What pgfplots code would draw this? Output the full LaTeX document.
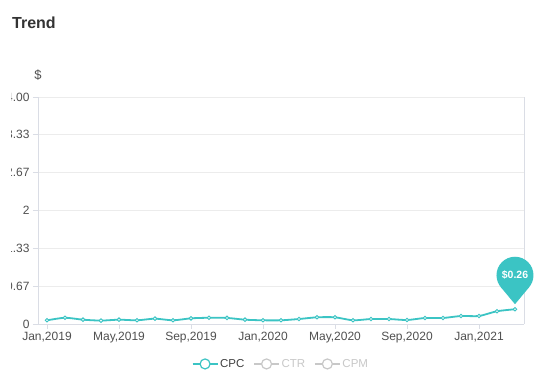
\documentclass[border=0pt]{standalone}
\usepackage{fontspec}
\setmainfont{Liberation Sans}
\usepackage{pgfplots}
\pgfplotsset{compat=1.18}
\definecolor{teal1}{RGB}{59,196,196}
\definecolor{axisgray}{RGB}{218,221,229}
\definecolor{gridgray}{RGB}{236,236,236}
\definecolor{ticktext}{RGB}{80,80,80}
\definecolor{leggray}{RGB}{200,200,200}
\begin{document}
\begin{tikzpicture}[x=1pt,y=1pt]
\useasboundingbox (0,0) rectangle (558,383);
\fill[white] (0,0) rectangle (558,383);
\node[anchor=west, inner sep=0pt, font=\fontsize{16}{19}\selectfont\bfseries, text=black!80] at (12,360) {Trend};
\node[font=\fontsize{13}{15}\selectfont, text=ticktext] at (38,308) {\$};
\begin{scope}
\clip (11,0) rectangle (558,383);
\begin{axis}[
  at={(38pt,59pt)}, anchor=south west,
  width=486pt, height=227pt, scale only axis,
  xmin=-0.5, xmax=26.5, ymin=0, ymax=4,
  xtick={0,4,8,12,16,20,24},
  xticklabels={{Jan,2019},{May,2019},{Sep,2019},{Jan,2020},{May,2020},{Sep,2020},{Jan,2021}},
  ytick={0,0.66667,1.33333,2,2.66667,3.33333,4},
  yticklabels={0,0.67,1.33,2,2.67,3.33,4.00},
  axis x line*=bottom, axis y line*=left,
  axis line style={axisgray, line width=0.8pt},
  ymajorgrids, grid style={gridgray, line width=0.8pt},
  tick align=outside, major tick length=5pt,
  tick style={axisgray, line width=0.8pt},
  ticklabel style={font=\fontsize{12}{14}\selectfont, text=ticktext},
  /pgf/number format/assume math mode=true,
  clip=false,
  legend style={at={(0.5,-0.176)}, anchor=center, draw=none, fill=none,
    legend columns=3, font=\fontsize{11.5}{13}\selectfont,
    /tikz/every even column/.append style={column sep=7pt}},
  legend cell align=left,
]
\addplot[teal1, line width=1.8pt, smooth, tension=0.4,
  mark=*, mark size=1.8pt, mark options={fill=white, draw=teal1, line width=0.9pt},
  legend image code/.code={\draw[teal1, line width=1.2pt] (0pt,0pt) -- (25pt,0pt);
    \draw[teal1, line width=1.2pt, fill=white] (12.5pt,0pt) circle (5pt);}]
coordinates {
(0,0.065) (1,0.11) (2,0.076) (3,0.06) (4,0.076) (5,0.065) (6,0.094) (7,0.065)
(8,0.10) (9,0.11) (10,0.107) (11,0.076) (12,0.065) (13,0.065) (14,0.088)
(15,0.118) (16,0.118) (17,0.065) (18,0.088) (19,0.088) (20,0.07) (21,0.106)
(22,0.106) (23,0.141) (24,0.141) (25,0.225) (26,0.26)
};
\addlegendentry[text=black!75]{CPC}
\addlegendimage{legend image code/.code={\draw[leggray, line width=1.2pt] (0pt,0pt) -- (25pt,0pt);
    \draw[leggray, line width=1.2pt, fill=white] (12.5pt,0pt) circle (5pt);}}
\addlegendentry[text=leggray]{CTR}
\addlegendimage{legend image code/.code={\draw[leggray, line width=1.2pt] (0pt,0pt) -- (25pt,0pt);
    \draw[leggray, line width=1.2pt, fill=white] (12.5pt,0pt) circle (5pt);}}
\addlegendentry[text=leggray]{CPM}
\draw[axisgray, line width=0.8pt] (rel axis cs:1,0) -- (rel axis cs:1,1);
\fill[teal1] ([yshift=34pt]axis cs:26,0.26) circle (18.5pt);
\fill[teal1] ([yshift=5pt]axis cs:26,0.26) -- ([xshift=-14.25pt,yshift=22.2pt]axis cs:26,0.26) -- ([xshift=14.25pt,yshift=22.2pt]axis cs:26,0.26) -- cycle;
\node[text=white, font=\fontsize{10.5}{12}\selectfont\bfseries] at ([yshift=34pt]axis cs:26,0.26) {\$0.26};
\end{axis}
\end{scope}
\end{tikzpicture}
\end{document}
